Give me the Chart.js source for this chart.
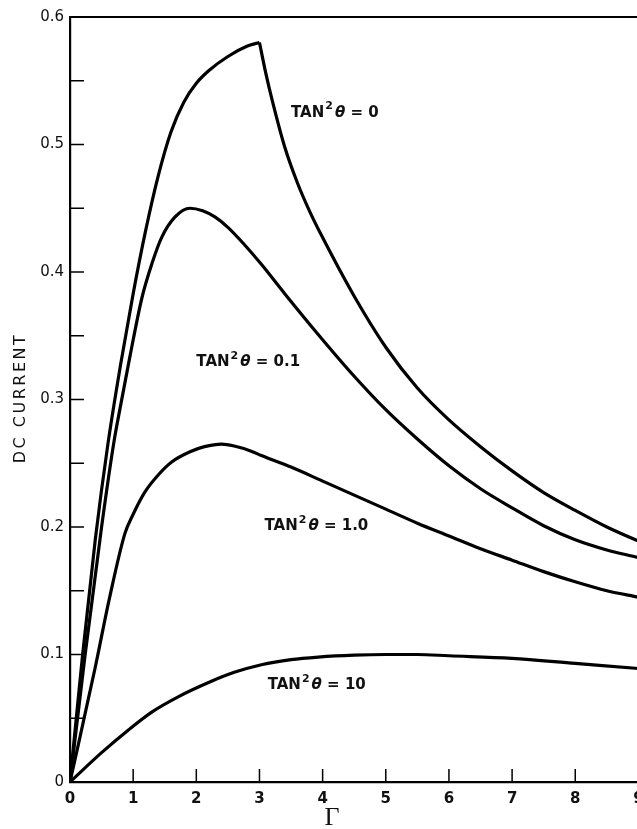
<!DOCTYPE html>
<html>
<head>
<meta charset="utf-8">
<script src="https://cdn.jsdelivr.net/npm/chart.js@4.4.0/dist/chart.umd.min.js"></script>
<style>
  html, body { margin: 0; padding: 0; background: #fff; overflow: hidden; }
  #wrap { width: 720px; height: 829px; position: relative; }
</style>
</head>
<body>
<div id="wrap"><canvas id="graph"></canvas></div>
<script>
// tan^2 theta = 0 (rising part, then falling part after the cusp at 3)
const riseX0 = [0, 0.2, 0.4, 0.6, 0.8, 1.0, 1.2, 1.4, 1.6, 1.8, 2.0, 2.2, 2.5, 2.8, 3.0];
const riseY0 = [0, 0.10, 0.19, 0.265, 0.327, 0.383, 0.433, 0.476, 0.510, 0.533, 0.548, 0.558, 0.569, 0.577, 0.580];
const fallX0 = [3.0, 3.1, 3.2, 3.4, 3.6, 3.8, 4.0, 4.5, 5.0, 5.5, 6.0, 6.5, 7.0, 7.5, 8.0, 8.5, 9.0, 9.3];
const fallY0 = [0.580, 0.556, 0.535, 0.498, 0.470, 0.447, 0.427, 0.381, 0.341, 0.309, 0.284, 0.263, 0.244, 0.227, 0.213, 0.200, 0.189, 0.183];

// tan^2 theta = 0.1
const gammaB = [0, 0.24, 0.5, 0.7, 0.8, 0.95, 1.14, 1.3, 1.45, 1.66, 1.9, 2.1, 2.3, 2.5, 2.77, 3.03, 3.4, 3.93, 4.45, 5.0, 5.5, 6.0, 6.5, 7.0, 7.5, 8.0, 8.5, 9.0, 9.3];
const currentB = [0, 0.10, 0.20, 0.268, 0.295, 0.334, 0.38, 0.407, 0.427, 0.443, 0.450, 0.448, 0.443, 0.435, 0.421, 0.406, 0.383, 0.351, 0.321, 0.292, 0.269, 0.248, 0.230, 0.215, 0.201, 0.190, 0.182, 0.176, 0.172];

// tan^2 theta = 1.0
const gammaC = [0, 0.4, 0.62, 0.87, 1.0, 1.18, 1.4, 1.61, 1.9, 2.13, 2.4, 2.6, 2.87, 3.03, 3.5, 4.0, 4.5, 5.0, 5.5, 6.0, 6.5, 7.0, 7.5, 8.0, 8.5, 9.0, 9.3];
const currentC = [0, 0.09, 0.143, 0.195, 0.21, 0.227, 0.241, 0.251, 0.259, 0.263, 0.265, 0.2635, 0.2595, 0.256, 0.247, 0.236, 0.225, 0.214, 0.203, 0.193, 0.183, 0.174, 0.165, 0.157, 0.150, 0.145, 0.142];

// tan^2 theta = 10
const gammaD = [0, 0.5, 0.93, 1.3, 1.72, 2.24, 2.6, 3.03, 3.5, 3.93, 4.5, 5.0, 5.5, 6.0, 7.0, 8.0, 9.0, 9.3];
const currentD = [0, 0.023, 0.041, 0.055, 0.067, 0.079, 0.086, 0.092, 0.096, 0.098, 0.0995, 0.100, 0.100, 0.099, 0.097, 0.093, 0.089, 0.088];

// curve labels
const labelValues = ["0", "0.1", "1.0", "10"];
const labelGamma = [3.5, 2.0, 3.08, 3.13];
const labelCurrent = [0.525, 0.329, 0.201, 0.076];

const xTicks = [1, 2, 3, 4, 5, 6, 7, 8, 9];

function toPoints(xs, ys) {
  return xs.map((x, i) => ({ x: x, y: ys[i] }));
}

function curve(xs, ys) {
  return {
    data: toPoints(xs, ys),
    borderColor: "#000",
    borderWidth: 3.2,
    pointRadius: 0,
    fill: false,
    cubicInterpolationMode: "monotone",
  };
}

// inward tick marks, top border, labels and axis titles
const paperPlugin = {
  id: "paper",
  afterDraw(chart) {
    const ctx = chart.ctx;
    const area = chart.chartArea;
    const xs = chart.scales.x;
    const ys = chart.scales.y;
    ctx.save();
    ctx.strokeStyle = "#000";
    ctx.lineWidth = 1.5;
    ctx.beginPath();
    xTicks.forEach((v) => {
      const px = xs.getPixelForValue(v);
      ctx.moveTo(px, area.bottom);
      ctx.lineTo(px, area.bottom - 13);
    });
    ys.ticks.forEach((t) => {
      if (t.value <= 0 || t.value >= 0.6) return;
      const py = ys.getPixelForValue(t.value);
      ctx.moveTo(area.left, py);
      ctx.lineTo(area.left + 14, py);
    });
    ctx.stroke();

    ctx.lineWidth = 2.2;
    ctx.beginPath();
    ctx.moveTo(area.left, area.top);
    ctx.lineTo(chart.width, area.top);
    ctx.stroke();

    ctx.fillStyle = "#111";
    ctx.textBaseline = "middle";
    ctx.textAlign = "left";
    labelValues.forEach((val, i) => {
      let px = xs.getPixelForValue(labelGamma[i]);
      const py = ys.getPixelForValue(labelCurrent[i]);
      ctx.font = "bold 15px 'DejaVu Sans'";
      ctx.fillText("TAN", px, py);
      px += ctx.measureText("TAN").width + 1;
      ctx.font = "bold 11px 'DejaVu Sans'";
      ctx.fillText("2", px, py - 6);
      px += ctx.measureText("2").width + 2;
      ctx.font = "italic bold 15px 'DejaVu Sans'";
      ctx.fillText("\u03b8", px, py);
      px += ctx.measureText("\u03b8").width;
      ctx.font = "bold 15px 'DejaVu Sans'";
      ctx.fillText(" = " + val, px, py);
    });

    // axis titles
    ctx.textAlign = "center";
    ctx.font = "26px 'Liberation Serif'";
    ctx.textBaseline = "alphabetic";
    ctx.fillText("\u0393", xs.getPixelForValue(4.15), 825);

    ctx.translate(21, 398);
    ctx.rotate(-Math.PI / 2);
    ctx.textBaseline = "middle";
    ctx.font = "16px 'DejaVu Sans'";
    ctx.letterSpacing = "2.5px";
    ctx.fillText("DC CURRENT", 0, 0);
    ctx.restore();
  },
};

new Chart(document.getElementById("graph"), {
  type: "line",
  data: {
    datasets: [
      curve(riseX0, riseY0),
      curve(fallX0, fallY0),
      curve(gammaB, currentB),
      curve(gammaC, currentC),
      curve(gammaD, currentD),
    ],
  },
  options: {
    responsive: true,
    maintainAspectRatio: false,
    animation: false,
    layout: { padding: { left: 0, right: 17, top: 17, bottom: 0 } },
    plugins: { legend: { display: false }, tooltip: { enabled: false } },
    scales: {
      x: {
        type: "linear",
        min: 0,
        max: 10,
        grid: { display: false, drawTicks: false },
        border: { display: true, color: "#000", width: 2.2 },
        ticks: {
          stepSize: 1,
          padding: 8,
          color: "#111",
          font: { family: "'DejaVu Sans'", size: 15, weight: "bold" },
        },
        afterFit(scale) { scale.height = 47; },
      },
      y: {
        min: 0,
        max: 0.6,
        grid: { display: false, drawTicks: false },
        border: { display: true, color: "#000", width: 2.2 },
        ticks: {
          stepSize: 0.05,
          padding: 6,
          color: "#111",
          font: { family: "'DejaVu Sans'", size: 15 },
          callback: (value) => {
            const v = Math.round(value * 100);
            if (v % 10 !== 0) return "";
            return v === 0 ? "0" : (v / 100).toFixed(1);
          },
        },
        afterFit(scale) { scale.width = 70; },
      },
    },
  },
  plugins: [paperPlugin],
});
</script>
</body>
</html>
